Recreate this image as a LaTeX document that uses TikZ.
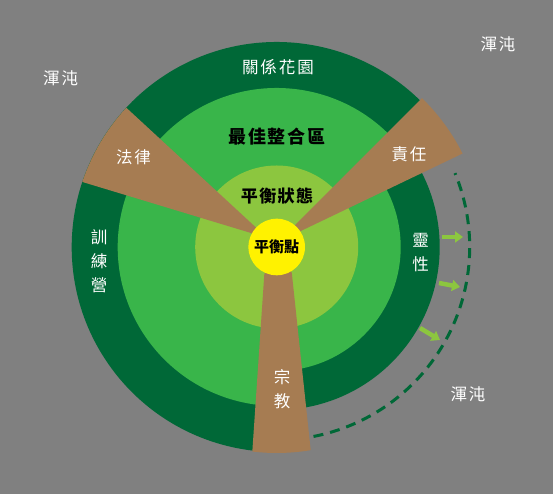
\documentclass[tikz,border=0pt]{standalone}
\usepackage{fontspec}
\setmainfont{Noto Sans CJK TC}
\usetikzlibrary{arrows.meta}
\definecolor{bggray}{HTML}{808080}
\definecolor{darkgreen}{HTML}{006837}
\definecolor{midgreen}{HTML}{39B54A}
\definecolor{lightgreen}{HTML}{8CC63F}
\definecolor{woodbrown}{HTML}{A67C52}
\definecolor{sunyellow}{HTML}{FFF200}
\begin{document}
\begin{tikzpicture}[x=1pt,y=1pt,line join=round,
	wlabel/.style={text=white,font=\fontsize{16.5}{24}\selectfont\addfontfeatures{LetterSpace=12},align=center},
	blabel/.style={text=black,font=\fontsize{17}{20}\selectfont\bfseries\addfontfeatures{LetterSpace=8}},
	outarrow/.style={lightgreen,line width=4.5pt,-{Triangle[length=8pt,width=11pt]}}]
	\def \rBig{205};
	\def \rMid{159};
	\def \rBigR{163};
	\def \rMidR{124};
	\def \rCore{81.5};
	\def \rPoint{28.3};
	\fill[bggray] (0,0) rectangle (553,494);
	\path
	(276.7,247) coordinate (O)
	(442,257) coordinate (a1) (463,257) coordinate (b1)
	(439,211) coordinate (a2) (460,207) coordinate (b2)
	(420,166) coordinate (a3) (440,154) coordinate (b3)
	;
	% rings, the right part is smaller
	\fill[darkgreen] (O) -- ([shift={(36:\rBig)}]O) arc[start angle=36,end angle=272,radius=\rBig] -- cycle;
	\fill[darkgreen] (O) -- ([shift={(-88:\rBigR)}]O) arc[start angle=-88,end angle=36,radius=\rBigR] -- cycle;
	\fill[midgreen] (O) -- ([shift={(36:\rMid)}]O) arc[start angle=36,end angle=272,radius=\rMid] -- cycle;
	\fill[midgreen] (O) -- ([shift={(-88:\rMidR)}]O) arc[start angle=-88,end angle=36,radius=\rMidR] -- cycle;
	\fill[lightgreen] (O) circle (\rCore);
	% wedges
	\foreach \i/\p/\q/\j/\r in {33.3/26.7/45.7/49.8/208,136.8/137.2/161.5/151.7/205,245.6/263.2/279.5/300.2/206}
	\fill[woodbrown] (O) -- ([shift={(\i:30)}]O) -- ([shift={(\p:\r)}]O) arc[start angle=\p,end angle=\q,radius=\r] -- ([shift={(\j:30)}]O) -- cycle;
	\fill[sunyellow] (O) circle (\rPoint);
	\draw[darkgreen,line width=3pt,dash pattern=on 10pt off 7pt] ([shift={(-79:193)}]O) arc[start angle=-79,end angle=22.5,radius=193];
	\foreach \k in {1,2,3} \draw[outarrow] (a\k) -- (b\k);
	% labels
	\node[wlabel] (garden) at (278,427) {關係花園};
	\node[blabel,font=\fontsize{18}{20}\selectfont\bfseries\addfontfeatures{LetterSpace=10}] (zone) at (277,357.5) {最佳整合區};
	\node[blabel] (state) at (277,298) {平衡狀態};
	\node[blabel,font=\fontsize{15}{18}\selectfont\bfseries] (point) at (O) {平衡點};
	\node[wlabel] (law) at (133.5,336.5) {法律};
	\node[wlabel] (duty) at (409,340) {責任};
	\node[wlabel] (camp) at (99,232.5) {訓\\練\\營};
	\node[wlabel] (spirit) at (420.5,241) {靈\\性};
	\node[wlabel] (faith) at (282,105) {宗\\教};
	\foreach \n/\x/\y in {chaosA/60.7/416,chaosB/498/450,chaosC/468/100}
	\node[wlabel] (\n) at (\x,\y) {渾沌};
\end{tikzpicture}
\end{document}
